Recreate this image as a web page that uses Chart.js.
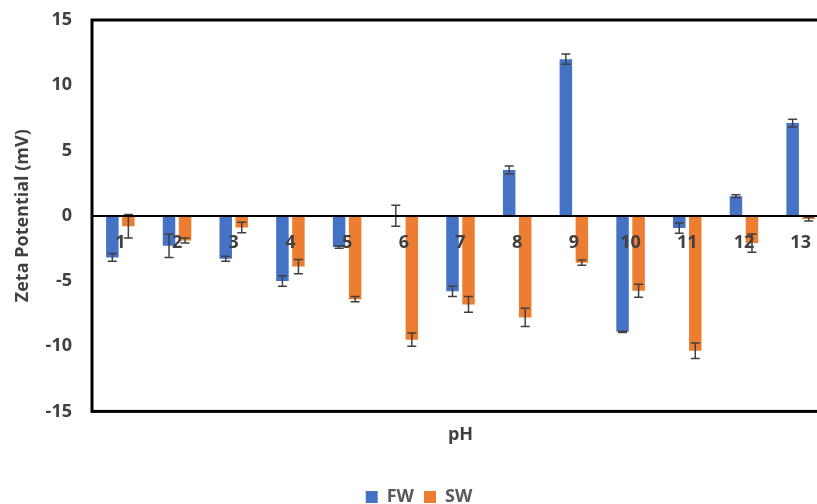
<!DOCTYPE html>
<html>
<head>
<meta charset="utf-8">
<script src="https://cdn.jsdelivr.net/npm/chart.js@4/dist/chart.umd.min.js"></script>
<style>
  html, body { margin: 0; padding: 0; background: #fff; overflow: hidden; }
  #wrap { width: 817px; height: 504px; overflow: hidden; }
</style>
</head>
<body>
<div id="wrap"><canvas id="chart" width="838" height="516"></canvas></div>
<script>
var phLabels = ['1','2','3','4','5','6','7','8','9','10','11','12','13'];
var fwValues = [-3.2, -2.3, -3.3, -5.0, -2.4, 0, -5.8, 3.5, 12.0, -8.9, -0.95, 1.5, 7.1];
var fwErrors = [0.3, 0.9, 0.2, 0.4, 0.1, 0.8, 0.4, 0.3, 0.4, 0.05, 0.4, 0.1, 0.3];
var swValues = [-0.8, -1.9, -0.9, -3.9, -6.4, -9.5, -6.8, -7.8, -3.6, -5.75, -10.35, -2.1, -0.25];
var swErrors = [0.9, 0.2, 0.4, 0.55, 0.2, 0.5, 0.6, 0.7, 0.2, 0.5, 0.6, 0.7, 0.15];
var yTicks = [-15, -10, -5, 0, 5, 10, 15];

var textColor = '#404040';
var fontFamily = '"Open Sans", "Liberation Sans", sans-serif';

// error bars + frame round the plot area
var extras = {
  id: 'extras',
  afterDatasetsDraw: function (chart) {
    var ctx = chart.ctx;
    var y = chart.scales.y;
    var errs = [fwErrors, swErrors];
    ctx.save();
    ctx.strokeStyle = '#404040';
    ctx.lineWidth = 1.5;
    chart.data.datasets.forEach(function (ds, i) {
      chart.getDatasetMeta(i).data.forEach(function (bar, j) {
        var v = ds.data[j], e = errs[i][j];
        var top = y.getPixelForValue(v + e), bot = y.getPixelForValue(v - e);
        ctx.beginPath();
        ctx.moveTo(bar.x, top); ctx.lineTo(bar.x, bot);
        ctx.moveTo(bar.x - 4.5, top); ctx.lineTo(bar.x + 4.5, top);
        ctx.moveTo(bar.x - 4.5, bot); ctx.lineTo(bar.x + 4.5, bot);
        ctx.stroke();
      });
    });
    var a = chart.chartArea;
    ctx.strokeStyle = '#000';
    ctx.lineWidth = 3;
    ctx.strokeRect(a.left, a.top, a.right - a.left, a.bottom - a.top);
    ctx.restore();
  }
};

var ctx = document.getElementById('chart').getContext('2d');
var myChart = new Chart(ctx, {
  type: 'bar',
  data: {
    labels: phLabels,
    datasets: [
      { label: 'FW', data: fwValues, backgroundColor: '#4472C4',
        categoryPercentage: 0.565, barPercentage: 0.78 },
      { label: 'SW', data: swValues, backgroundColor: '#ED7D31',
        categoryPercentage: 0.565, barPercentage: 0.78 }
    ]
  },
  options: {
    responsive: false,
    animation: false,
    layout: { padding: { top: 20, left: 9, right: 9, bottom: 0 } },
    scales: {
      x: {
        position: { y: 0 },
        grid: { display: false, drawTicks: false },
        border: { display: true, color: '#000', width: 2, z: 1 },
        ticks: { z: 2, color: textColor, padding: 16, font: { family: fontFamily, size: 18, weight: 'bold' } }
      },
      y: {
        min: -15, max: 15,
        afterFit: function (s) { s.width = 83; },
        afterBuildTicks: function (s) { s.ticks = yTicks.map(function (v) { return { value: v }; }); },
        grid: { display: false, drawTicks: true, tickLength: 20 },
        border: { display: false },
        ticks: { color: textColor, padding: 0, font: { family: fontFamily, size: 18, weight: 'bold' } },
        title: {
          display: true, text: 'Zeta Potential (mV)', color: textColor,
          padding: { top: 3, bottom: 4 },
          font: { family: fontFamily, size: 18, weight: 'bold' }
        }
      }
    },
    plugins: {
      tooltip: { enabled: false },
      title: {
        display: true, text: 'pH', position: 'bottom', fullSize: false, weight: 500,
        color: textColor, padding: { top: 13, bottom: 32 },
        font: { family: fontFamily, size: 18, weight: 'bold' }
      },
      legend: {
        position: 'bottom',
        labels: {
          color: '#595959', boxWidth: 12, boxHeight: 12, padding: 10,
          font: { family: fontFamily, size: 18, weight: 'bold' }
        }
      }
    }
  },
  plugins: [extras]
});
</script>
</body>
</html>
